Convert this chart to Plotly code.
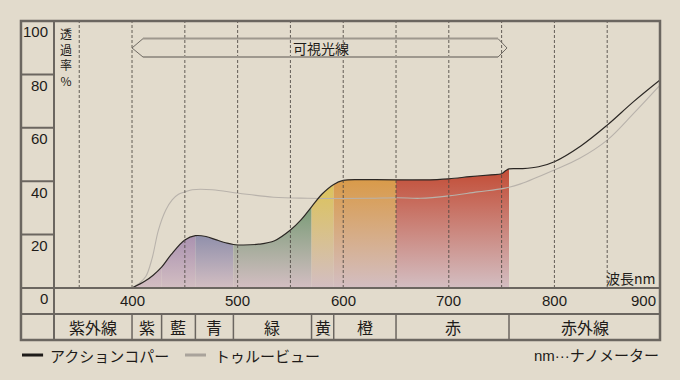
import plotly.graph_objects as go

# ---------------- data ----------------
wl_action = [400, 412, 420, 428, 437, 450, 460, 470, 480, 490, 496, 505, 520, 535, 550, 560, 570,
             580, 591, 600, 615, 630, 650, 675, 700, 720, 740, 750, 754, 757, 770, 785, 800, 825,
             850, 875, 900]
tr_action = [0, 2.5, 4.8, 7.8, 12.5, 18.0, 19.6, 19.3, 18.0, 16.8, 16.3, 16.1, 16.4, 17.7, 21.7,
             25.5, 30.4, 35.2, 38.8, 40.3, 40.6, 40.6, 40.5, 40.5, 40.9, 41.7, 42.4, 42.8, 44.0,
             44.6, 44.7, 45.4, 47.3, 53.2, 61.0, 69.8, 77.9]

wl_true = [400, 406, 413, 419, 425, 432, 438, 444, 451, 457, 476, 501, 534, 566, 597, 626, 651,
           673, 700, 727, 752, 768, 801, 824, 850, 875, 900]
tr_true = [0, 1.5, 4.3, 11.1, 21.7, 29.2, 33.0, 35.1, 36.1, 36.8, 36.8, 35.5, 34.0, 33.6, 33.5,
           33.6, 33.8, 33.6, 34.5, 36.0, 37.3, 39.0, 44.4, 48.6, 55.4, 65.4, 76.0]

band_names = ["紫外線", "紫", "藍", "青", "緑", "黄", "橙", "赤", "赤外線"]
band_edges = [326.1, 400, 428, 460, 496, 570, 591, 650, 757, 900]
band_fill = [None, "#b094b0", "#a991b0", "#8f8fab", "#7b9c78", "#dcc35a", "#d99a48", "#c3503a", None]
band_stop = [None, 20, 20, 20, 30, 39, 41, 43, None]

x_ticks = [400, 500, 600, 700, 800, 900]
y_ticks = [0, 20, 40, 60, 80, 100]
grid_x = [350, 400, 450, 500, 550, 600, 650, 700, 750, 800, 850]

series_names = ["アクションコパー", "トゥルービュー"]
visible_label = "可視光線"
y_title = "透<br>過<br>率<br>%"
x_unit = "波長nm"
note = "nm···ナノメーター"

# ---------------- style ----------------
BG = "#e2dbcc"
FRAME = "#6b6660"
TXT = "#1e1b19"
BOTTOM = "#d3bec2"
FONT = "Liberation Sans, Arial, Noto Sans CJK JP, sans-serif"
XMIN, XMAX = 326.1, 900

fig = go.Figure()

# gradient fills per colour band, following the black curve
for i, name in enumerate(band_names):
    if band_fill[i] is None:
        continue
    lo, hi = band_edges[i], band_edges[i + 1]
    xs = [x for x in wl_action if lo <= x <= hi]
    ys = [y for x, y in zip(wl_action, tr_action) if lo <= x <= hi]
    fig.add_trace(go.Scatter(
        x=xs, y=ys, mode="lines", line=dict(width=0, shape="spline"),
        fill="tozeroy",
        fillgradient=dict(type="vertical", colorscale=[[0, BOTTOM], [1, band_fill[i]]],
                          start=0, stop=band_stop[i]),
        hoverinfo="skip", showlegend=False))

fig.add_trace(go.Scatter(x=wl_true, y=tr_true, mode="lines",
                         line=dict(color="#b8b2ab", width=1.1, shape="spline"),
                         showlegend=False, name=series_names[1]))
fig.add_trace(go.Scatter(x=wl_action, y=tr_action, mode="lines",
                         line=dict(color="#2b2724", width=1.2, shape="spline"),
                         showlegend=False, name=series_names[0]))

shapes = []
# dashed verticals
for gx in grid_x:
    shapes.append(dict(type="line", xref="x", yref="y", x0=gx, x1=gx, y0=0, y1=100,
                       line=dict(color="rgba(75,70,65,0.85)", width=1, dash="3px,2px")))

ROW1 = -0.0974   # bottom of tick row
ROW2 = -0.1948   # bottom of band row
LEFT = -0.0545
# outer frame
shapes.append(dict(type="rect", xref="paper", yref="paper", x0=LEFT, x1=1.0, y0=ROW2, y1=1.0,
                   line=dict(color=FRAME, width=2.5)))
# inner lines
shapes.append(dict(type="line", xref="paper", yref="paper", x0=0, x1=0, y0=ROW2, y1=1,
                   line=dict(color=FRAME, width=2)))
shapes.append(dict(type="line", xref="paper", yref="paper", x0=LEFT, x1=1, y0=0, y1=0,
                   line=dict(color=FRAME, width=2)))
shapes.append(dict(type="line", xref="paper", yref="paper", x0=LEFT, x1=1, y0=ROW1, y1=ROW1,
                   line=dict(color=FRAME, width=2)))
for yv in y_ticks[1:-1]:
    shapes.append(dict(type="line", xref="paper", yref="y", x0=LEFT, x1=0, y0=yv, y1=yv,
                       line=dict(color=FRAME, width=2)))
for e in band_edges[1:-1]:
    shapes.append(dict(type="line", xref="x", yref="paper", x0=e, x1=e, y0=ROW2, y1=ROW1,
                       line=dict(color=FRAME, width=1.5)))

# visible-light arrow
a0, a1, a2, a3 = 400, 410.4, 746.6, 755.1
ym, yt, yb = 89.9, 93.4, 86.5
shapes.append(dict(type="path", xref="x", yref="y",
                   path=f"M {a1},{yt} L {a0},{ym} L {a1},{yb} M {a2},{yt} L {a3},{ym} L {a2},{yb}",
                   line=dict(color="#6f6a63", width=1)))
for yy in (yt, yb):
    shapes.append(dict(type="line", xref="x", yref="y", x0=a1, x1=a2, y0=yy, y1=yy,
                       line=dict(color="#9e988e", width=2)))

# legend swatches
LEG_Y = -0.251
shapes.append(dict(type="line", xref="paper", yref="paper", x0=-0.0528, x1=-0.018, y0=LEG_Y, y1=LEG_Y,
                   line=dict(color="#1e1b19", width=3)))
shapes.append(dict(type="line", xref="paper", yref="paper", x0=0.2162, x1=0.2508, y0=LEG_Y, y1=LEG_Y,
                   line=dict(color="#a9a39b", width=3)))

ann = []
# y tick labels (paper coords so the 0 label below the axis is not hidden)
for yv in y_ticks:
    ann.append(dict(xref="paper", yref="paper", x=-0.006, y=(yv - 4.1) / 100, text=str(yv),
                    showarrow=False, xanchor="right", yanchor="middle",
                    font=dict(size=15, color=TXT, family=FONT)))
# x tick labels
for xv in x_ticks:
    if xv == 900:
        ann.append(dict(xref="x", yref="paper", x=xv, y=-0.045, text=str(xv), showarrow=False,
                        xanchor="right", yanchor="middle", xshift=-2,
                        font=dict(size=15, color=TXT, family=FONT)))
    else:
        ann.append(dict(xref="x", yref="paper", x=xv, y=-0.045, text=str(xv), showarrow=False,
                        xanchor="center", yanchor="middle", font=dict(size=15, color=TXT, family=FONT)))
# band names
for i, name in enumerate(band_names):
    cx = (band_edges[i] + band_edges[i + 1]) / 2
    ann.append(dict(xref="x", yref="paper", x=cx, y=-0.146, text=name, showarrow=False,
                    xanchor="center", yanchor="middle",
                    font=dict(size=16, color=TXT, family="Noto Sans CJK JP")))
# vertical y title
ann.append(dict(xref="paper", yref="paper", x=0.0206, y=0.993, text=y_title, showarrow=False,
                xanchor="center", yanchor="top",
                font=dict(size=12, color=TXT, family="Noto Sans CJK JP")))
# visible light label
ann.append(dict(xref="x", yref="y", x=579, y=ym, text=visible_label, showarrow=False,
                xanchor="center", yanchor="middle",
                font=dict(size=14, color=TXT, family="Noto Sans CJK JP")))
# x unit
ann.append(dict(xref="x", yref="y", x=900, y=3.9, text=x_unit, showarrow=False, xshift=-2,
                xanchor="right", yanchor="middle",
                font=dict(size=14, color=TXT, family="Noto Sans CJK JP")))
# legend texts
ann.append(dict(xref="paper", yref="paper", x=-0.0099, y=LEG_Y, text=series_names[0], showarrow=False,
                xanchor="left", yanchor="middle", font=dict(size=15, color=TXT, family="Noto Sans CJK JP")))
ann.append(dict(xref="paper", yref="paper", x=0.2624, y=LEG_Y, text=series_names[1], showarrow=False,
                xanchor="left", yanchor="middle", font=dict(size=15, color=TXT, family="Noto Sans CJK JP")))
ann.append(dict(xref="paper", yref="paper", x=1.002, y=LEG_Y, text=note, showarrow=False,
                xanchor="right", yanchor="middle", font=dict(size=15, color=TXT, family=FONT)))

fig.update_layout(
    width=680, height=380,
    margin=dict(l=54, r=20, t=21, b=92),
    paper_bgcolor=BG, plot_bgcolor=BG,
    xaxis=dict(range=[XMIN, XMAX], visible=False, showgrid=False, zeroline=False, fixedrange=True),
    yaxis=dict(range=[0, 100], visible=False, showgrid=False, zeroline=False, fixedrange=True),
    shapes=shapes, annotations=ann, showlegend=False,
)

fig.write_html("out.html", config={"displayModeBar": False},
               post_script="document.body.style.margin='0';document.body.style.background='#e2dbcc';")
